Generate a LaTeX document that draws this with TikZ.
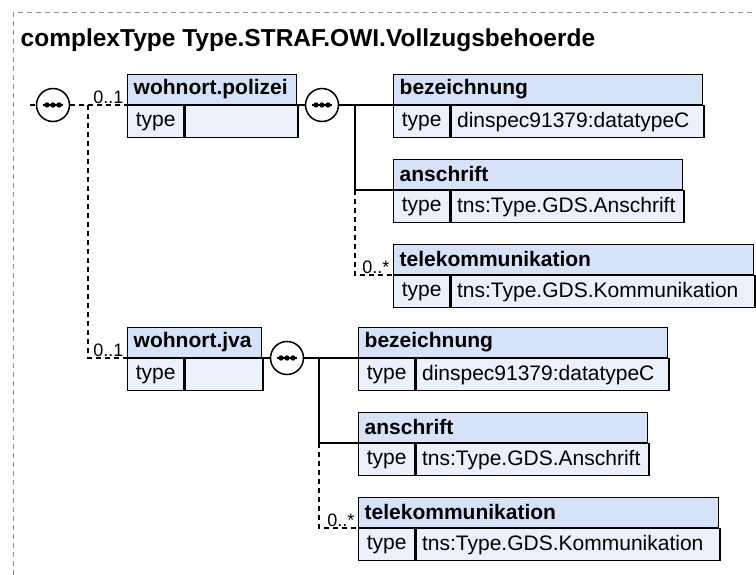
\documentclass[tikz,border=0pt]{standalone}
\usepackage{fontspec}
\setmainfont{Liberation Sans}
\usetikzlibrary{positioning}

\definecolor{hdrblue}{RGB}{214,226,247}
\definecolor{cellblue}{RGB}{234,241,251}
\definecolor{framegray}{RGB}{140,140,140}

% one element box: name, x, y of the middle line, width, label, type
\newcommand{\xsdelem}[6]{%
  \pgfmathsetmacro{\hdrw}{#4-12}%
  \pgfmathsetmacro{\valw}{#4-56-12}%
  \node[hdrbox, text width=\hdrw pt, anchor=south west] (#1) at (#2,#3) {#5};
  \node[typebox, anchor=north west] (#1t) at (#2,#3) {type};
  \node[valbox, text width=\valw pt, anchor=north west] (#1v) at (#1t.north east) {#6};
}

\begin{document}
\begin{tikzpicture}[x=1pt, y=-1pt, line width=1.4pt,
  hdrbox/.style={draw, fill=hdrblue, inner xsep=6pt, inner ysep=2pt, minimum height=30pt,
    align=left, font=\fontsize{21}{24}\selectfont\bfseries},
  typebox/.style={draw, fill=cellblue, inner xsep=6pt, minimum width=56pt, minimum height=32pt,
    font=\fontsize{21}{24}\selectfont},
  valbox/.style={draw, fill=cellblue, inner xsep=6pt, minimum height=32pt, align=left,
    font=\fontsize{21}{24}\selectfont},
  seq/.style={circle, draw, fill=white, line width=1.5pt, minimum size=33pt, inner sep=0pt},
  card/.style={inner xsep=3pt, inner ysep=1pt, font=\fontsize{18}{21}\selectfont},
  opt/.style={dash pattern=on 5pt off 4pt}]
\useasboundingbox (0,0) rectangle (756,575);
\draw[framegray, line width=1pt, dash pattern=on 5pt off 4pt] (13,575) -- (13,13) -- (756,13);
\node[anchor=base west, inner sep=0pt, font=\fontsize{24.5}{28}\selectfont\bfseries] (title) at (20,47)
  {complexType Type.STRAF.OWI.Vollzugsbehoerde};

% first level
\coordinate (start) at (30,105);
\node[seq] (seqA) at (53,105) {};
\xsdelem{pol}{127}{105}{169}{wohnort.polizei}{}
\xsdelem{jva}{127}{358}{134}{wohnort.jva}{}
\coordinate (fork) at (88,105);
\draw[opt] (start) -- (seqA);
\draw[opt] (seqA) -- (pol.south west);
\draw[opt] (fork) |- (jva.south west);
\node[card, anchor=south east] (cpol) at (pol.south west) {0..1};
\node[card, anchor=south east] (cjva) at (jva.south west) {0..1};

% children of wohnort.polizei
\node[seq] (seqB) at (322,105) {};
\xsdelem{bezA}{393}{105}{309}{bezeichnung}{dinspec91379:datatypeC}
\xsdelem{ansA}{393}{190}{289}{anschrift}{tns:Type.GDS.Anschrift}
\xsdelem{telA}{393}{275}{360}{telekommunikation}{tns:Type.GDS.Kommunikation}
\coordinate (forkA) at (355,105);
\draw (pol.south east) -- (seqB);
\draw (seqB) -- (bezA.south west);
\draw (forkA) |- (ansA.south west);
\draw[opt] (forkA |- ansA.south west) |- (telA.south west);
\node[card, anchor=south east] (ctelA) at (telA.south west) {0..*};

% children of wohnort.jva
\node[seq] (seqC) at (287,358) {};
\xsdelem{bezB}{358}{358}{309}{bezeichnung}{dinspec91379:datatypeC}
\xsdelem{ansB}{358}{443}{289}{anschrift}{tns:Type.GDS.Anschrift}
\xsdelem{telB}{358}{528}{360}{telekommunikation}{tns:Type.GDS.Kommunikation}
\coordinate (forkB) at (319,358);
\draw (jva.south east) -- (seqC);
\draw (seqC) -- (bezB.south west);
\draw (forkB) |- (ansB.south west);
\draw[opt] (forkB |- ansB.south west) |- (telB.south west);
\node[card, anchor=south east] (ctelB) at (telB.south west) {0..*};

% sequence marks
\foreach \s in {seqA,seqB,seqC} {
  \draw ([xshift=-10pt]\s.center) -- ([xshift=10pt]\s.center);
  \foreach \dx in {-6,0,6}
    \fill ([xshift=\dx pt]\s.center) circle (2.7pt);
}
\end{tikzpicture}
\end{document}
